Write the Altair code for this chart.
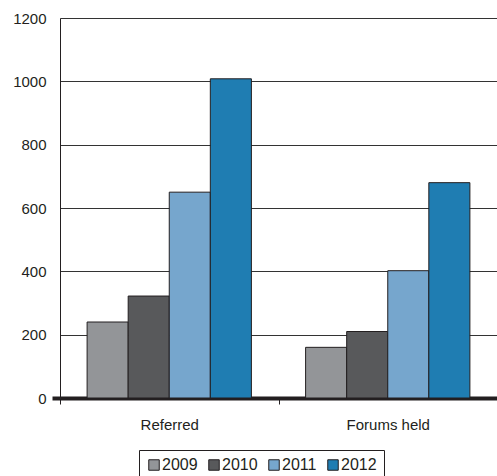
import altair as alt
import pandas as pd

# Grouped bar chart: referrals and forums held per year
categories = ["Referred", "Forums held"]
years = ["2009", "2010", "2011", "2012"]
referred = [240, 322, 650, 1008]
forums_held = [160, 210, 402, 680]
year_colors = ["#939598", "#58595b", "#76a6cd", "#1f7db2"]

rows = []
for cat, vals in zip(categories, [referred, forums_held]):
    for yr, v in zip(years, vals):
        rows.append({"category": cat, "year": yr, "value": v})
df = pd.DataFrame(rows)

ink = "#231f20"
font = "Liberation Sans"

bars = alt.Chart(df).mark_bar(stroke=ink, strokeWidth=1).encode(
    x=alt.X(
        "category:N",
        sort=categories,
        title=None,
        scale=alt.Scale(paddingInner=0, paddingOuter=0),
        axis=alt.Axis(
            labelAngle=0,
            labelFont=font,
            labelFontSize=15,
            labelColor=ink,
            labelPadding=13,
            tickBand="extent",
            tickSize=6,
            tickColor=ink,
            tickWidth=1,
            domainColor=ink,
            domainWidth=4,
            grid=False,
        ),
    ),
    xOffset=alt.XOffset(
        "year:N",
        sort=years,
        scale=alt.Scale(paddingInner=0, paddingOuter=0.66),
    ),
    y=alt.Y(
        "value:Q",
        title=None,
        scale=alt.Scale(domain=[0, 1200], nice=False),
        axis=alt.Axis(
            values=[0, 200, 400, 600, 800, 1000, 1200],
            format="d",
            labelFont=font,
            labelFontSize=15,
            labelColor=ink,
            labelPadding=6,
            tickSize=8,
            tickColor=alt.condition("datum.value == 0", alt.value(ink), alt.value("transparent")),
            tickWidth=alt.condition("datum.value == 0", alt.value(4), alt.value(1)),
            domainColor=ink,
            domainWidth=1,
            grid=True,
            gridColor="#333333",
            gridWidth=1,
            gridOpacity=1,
        ),
    ),
    color=alt.Color(
        "year:N",
        sort=years,
        scale=alt.Scale(domain=years, range=year_colors),
        legend=alt.Legend(
            title=None,
            orient="none",
            legendX=79,
            legendY=432,
            direction="horizontal",
            columns=4,
            columnPadding=8,
            symbolType="square",
            symbolSize=110,
            symbolStrokeColor=ink,
            symbolStrokeWidth=1,
            labelFont=font,
            labelFontSize=16,
            labelColor=ink,
            labelOffset=0,
            padding=7,
            strokeColor=ink,
            fillColor="white",
        ),
    ),
)

chart = bars.properties(
    width=437,
    height=380,
    autosize=alt.AutoSizeParams(type="none"),
    padding={"left": 60, "top": 18, "right": 0, "bottom": 78},
).configure_view(stroke=None).configure(background="white")

chart.save("out.html", embed_options={"renderer": "svg", "actions": False})
